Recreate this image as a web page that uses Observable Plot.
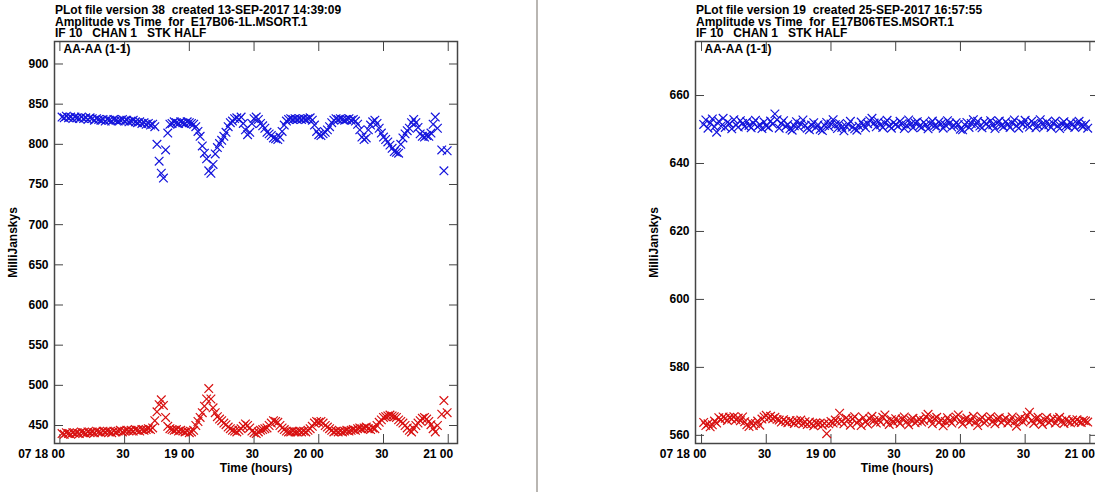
<!DOCTYPE html>
<html><head><meta charset="utf-8">
<script src="https://cdn.jsdelivr.net/npm/d3@7"></script>
<script src="https://cdn.jsdelivr.net/npm/@observablehq/plot@0.6"></script>
<style>
body{margin:0;background:#fff;}
#wrap{position:relative;width:1095px;height:492px;overflow:hidden;background:#fff;font-family:"Liberation Sans",Arial,sans-serif;}
.title{position:absolute;top:5px;font-weight:bold;font-size:12px;line-height:11.5px;white-space:pre;color:#000;z-index:2;}
.panel{position:absolute;top:0;width:537px;height:492px;}
.panel svg{max-width:none !important;width:537px;height:492px;}
#divider{position:absolute;left:536px;top:0;width:2px;height:492px;background:#b9b6b2;z-index:3;}
</style></head>
<body>
<div id="wrap">
 <div id="left" class="panel" style="left:0"></div>
 <div id="right" class="panel" style="left:641px"></div>
 <div id="divider"></div>
 <div class="title" id="t1" style="left:55px"></div>
 <div class="title" id="t2" style="left:696px"></div>
</div>
<script>
// ---------- titles ----------
const leftTitle = ["PLot file version 38  created 13-SEP-2017 14:39:09", "Amplitude vs Time  for  E17B06-1L.MSORT.1", "IF 10   CHAN 1   STK HALF"];
const rightTitle = ["PLot file version 19  created 25-SEP-2017 16:57:55", "Amplitude vs Time  for  E17B06TES.MSORT.1", "IF 10   CHAN 1   STK HALF"];
const panelLabel = "AA-AA (1-1)";
const yLabel = "MilliJanskys";
const xLabel = "Time (hours)";

// ---------- x ticks (minutes after 18:00 on day 07) ----------
const xTicks = [0, 30, 60, 90, 120, 150, 180];
const xTickLabels = ["07 18 00", "30", "19 00", "30", "20 00", "30", "21 00"];

// ---------- left panel (E17B06-1L) ----------
const leftYTicks = [450, 500, 550, 600, 650, 700, 750, 800, 850, 900];
const leftMinutes = [1,2,3,4,5,6,7,8,9,10,11,12,13,14,15,16,17,18,19,20,21,22,23,24,25,26,27,28,29,30,31,32,33,34,35,36,37,38,39,40,41,42,43,44,45,46,47,48,49,50,51,52,53,54,55,56,57,58,59,60,61,62,63,64,65,66,67,68,69,70,71,72,73,74,75,76,77,78,79,80,81,82,83,84,85,86,87,88,89,90,91,92,93,94,95,96,97,98,99,100,101,102,103,104,105,106,107,108,109,110,111,112,113,114,115,116,117,118,119,120,121,122,123,124,125,126,127,128,129,130,131,132,133,134,135,136,137,138,139,140,141,142,143,144,145,146,147,148,149,150,151,152,153,154,155,156,157,158,159,160,161,162,163,164,165,166,167,168,169,170,171,172,173,174,175,177,178,179.5];
const leftBlue = [
 834,833,835,833,834,832,834,833,832,834,832,833,831,833,832,830,832,831,830,831,
 829,831,830,829,831,830,829,830,831,829,830,828,829,830,828,827,828,826,827,825,
 826,824,825,822,800,779,764,758,793,814,825,826,828,827,826,828,827,826,828,827,
 826,825,822,816,810,798,789,782,767,764,775,788,796,801,805,810,815,822,827,829,
 832,833,831,834,826,818,812,815,826,832,834,831,826,823,820,815,813,811,808,807,
 806,809,816,824,829,831,832,831,832,831,832,831,832,831,832,833,830,824,816,812,
 811,813,815,818,822,827,830,832,831,832,831,830,831,832,830,831,829,825,818,809,
 806,808,818,824,828,830,826,820,814,809,806,803,799,795,791,790,789,800,808,813,
 817,820,827,831,827,821,813,810,809,811,810,814,825,834,820,793,767,792];
const leftRed = [
 440,439,441,440,439,441,440,441,440,442,441,440,442,441,442,441,443,442,441,443,
 442,443,442,441,443,442,443,444,442,443,444,443,444,443,445,444,443,445,444,445,
 446,445,447,456,467,476,482,475,460,449,446,445,444,445,443,444,443,442,443,441,
 442,444,450,455,460,466,474,483,496,483,472,466,461,458,456,453,451,448,446,444,
 443,442,444,446,449,452,450,447,443,441,440,442,444,445,446,447,450,453,456,455,
 454,450,447,445,443,442,442,443,442,442,443,442,443,442,444,446,449,453,455,454,
 455,453,450,448,446,444,442,443,442,443,442,443,444,443,444,445,444,446,447,446,
 447,448,446,445,447,446,450,454,457,460,461,462,463,462,461,460,457,455,453,450,
 447,444,442,446,450,453,456,459,460,458,455,451,446,442,450,464,481,466];

// ---------- right panel (E17B06TES) ----------
const rightYTicks = [560, 580, 600, 620, 640, 660];
const rightMinutes = [1,2,3,4,5,6,7,8,9,10,11,12,13,14,15,16,17,18,19,20,21,22,23,24,25,26,27,28,29,30,31,32,33,34,35,36,37,38,39,40,41,42,43,44,45,46,47,48,49,50,51,52,53,54,55,56,57,58,59,60,61,62,63,64,65,66,67,68,69,70,71,72,73,74,75,76,77,78,79,80,81,82,83,84,85,86,87,88,89,90,91,92,93,94,95,96,97,98,99,100,101,102,103,104,105,106,107,108,109,110,111,112,113,114,115,116,117,118,119,120,121,122,123,124,125,126,127,128,129,130,131,132,133,134,135,136,137,138,139,140,141,142,143,144,145,146,147,148,149,150,151,152,153,154,155,156,157,158,159,160,161,162,163,164,165,166,167,168,169,170,171,172,173,174,175,176,177,178,179];
const rightBlue = [
 651.5,652.8,650.4,651.9,653.1,650.8,649.2,652.4,651.0,653.3,
 650.6,652.1,651.7,650.2,652.9,651.3,650.7,652.6,651.8,650.9,
 652.3,651.2,650.5,651.9,652.7,650.8,651.4,650.3,652.2,651.0,
 650.6,652.5,651.6,654.6,652.9,650.4,651.8,652.6,650.9,651.5,
 650.2,649.8,651.1,652.3,650.7,651.6,652.8,651.2,650.4,649.9,
 651.3,652.0,650.6,651.4,650.1,649.7,651.2,652.1,650.8,651.6,
 652.9,651.4,650.3,651.8,650.6,649.6,650.9,651.5,652.4,650.7,
 650.2,649.8,651.0,652.2,651.3,650.5,651.7,652.6,653.3,651.9,
 650.8,652.3,651.4,650.6,651.9,652.7,651.1,650.4,652.0,651.5,
 650.9,652.4,651.7,650.3,651.2,652.8,651.6,650.5,651.9,652.3,
 651.0,650.6,652.1,651.4,650.2,651.7,652.5,651.1,650.8,652.2,
 651.6,650.4,651.3,652.6,651.9,650.7,651.2,652.0,651.5,650.1,
 649.9,651.4,652.1,650.6,651.8,652.9,651.3,652.4,651.0,650.5,
 652.2,651.7,650.9,652.6,651.4,650.3,651.9,652.5,651.2,650.8,
 652.3,651.5,650.6,651.9,652.8,651.1,650.4,652.0,651.6,652.7,
 651.3,650.7,652.4,651.8,650.5,651.2,652.9,651.6,650.9,652.2,
 651.4,650.6,651.8,652.5,651.0,650.3,651.7,652.3,651.1,650.8,
 652.0,651.5,650.6,651.9,652.4,651.2,650.9,651.6,650.4];
const rightRed = [
 563.8,562.9,563.4,562.5,563.1,564.2,563.6,
 565.2,564.6,565.4,565.0,564.4,565.3,564.8,565.5,564.6,565.1,564.3,565.4,
 564.0,563.1,562.6,563.8,562.9,563.5,564.2,563.0,
 564.8,565.4,565.9,565.1,565.6,564.9,565.3,564.7,
 564.5,563.9,564.6,564.1,563.7,564.4,564.0,563.5,564.3,563.8,564.5,563.4,564.0,563.2,563.9,563.4,562.8,563.7,563.3,563.6,563.0,563.5,
 560.5,563.4,564.1,563.6,564.5,563.9,
 566.5,564.2,563.4,565.1,564.6,563.0,564.8,565.5,563.7,564.3,
 562.9,565.2,564.0,563.3,564.9,565.6,564.4,563.6,564.7,563.9,
 565.3,566.0,564.1,563.2,564.6,563.8,564.9,564.3,563.5,564.8,
 565.4,564.0,563.1,564.5,565.0,563.7,564.2,564.8,563.9,564.4,
 565.5,566.2,564.6,563.4,564.9,565.3,563.8,564.5,562.8,564.1,
 565.2,564.3,563.6,564.9,565.4,566.0,564.2,563.3,564.7,565.1,
 563.9,564.4,565.6,564.0,562.9,564.6,565.3,563.7,564.2,564.9,
 565.5,564.1,563.4,564.8,565.2,563.8,564.5,565.0,563.6,564.3,
 565.4,564.0,562.7,564.6,565.1,563.9,564.7,565.8,566.8,564.4,
 563.5,564.9,565.3,564.1,563.2,564.6,565.2,563.8,564.4,565.0,
 563.6,564.8,565.3,564.2,563.5,564.7,564.0,563.7,564.5,563.9,
 564.6,564.1,563.8,564.4,564.2,563.9];

const BLUE = "#1414dc";
const RED = "#d81010";
const AXIS = "#444";

function panel({minutes, blue, red, xDomain, yDomain, yTicks}) {
  const rows = [];
  minutes.forEach((m, i) => {
    rows.push({t: m, v: blue[i], s: "RR"});
    rows.push({t: m, v: red[i], s: "LL"});
  });
  return Plot.plot({
    width: 537, height: 492,
    marginTop: 41, marginBottom: 49, marginLeft: 54, marginRight: 80,
    style: {fontFamily: "'Liberation Sans', Arial, sans-serif", fontSize: "12px", fontWeight: "bold", background: "transparent", color: "#000", maxWidth: "none"},
    x: {domain: xDomain},
    y: {domain: yDomain},
    marks: [
      Plot.axisY(yTicks, {anchor: "left", tickSize: -9, tickPadding: 15, stroke: AXIS, label: yLabel, labelAnchor: "center", labelOffset: 46, labelArrow: "none"}),
      Plot.axisY(yTicks, {anchor: "right", tickSize: -9, tickFormat: () => "", label: null, stroke: AXIS}),
      Plot.axisX(xTicks, {anchor: "bottom", tickSize: -9, tickFormat: () => "", stroke: AXIS, label: xLabel, labelAnchor: "center", labelOffset: 28, labelArrow: "none"}),
      Plot.axisX(xTicks, {anchor: "top", tickSize: -9, tickFormat: () => "", label: null, stroke: AXIS}),
      Plot.text(xTicks, {x: d => d, text: (d, i) => xTickLabels[i], frameAnchor: "bottom", lineAnchor: "top", textAnchor: "end", dx: 5, dy: 6}),
      Plot.dot(rows.filter(d => d.s === "RR"), {x: "t", y: "v", symbol: "times", r: 4, stroke: BLUE, strokeWidth: 1.2}),
      Plot.dot(rows.filter(d => d.s === "LL"), {x: "t", y: "v", symbol: "times", r: 4, stroke: RED, strokeWidth: 1.2}),
      Plot.frame({stroke: AXIS, strokeWidth: 1.5}),
      Plot.text([panelLabel], {frameAnchor: "top-left", textAnchor: "start", lineAnchor: "top", dx: 9, dy: 3})
    ]
  });
}

document.getElementById("t1").textContent = leftTitle.join("\n");
document.getElementById("t2").textContent = rightTitle.join("\n");
document.getElementById("left").append(panel({minutes: leftMinutes, blue: leftBlue, red: leftRed, xDomain: [-2.5, 184.3], yDomain: [427.6, 928], yTicks: leftYTicks}));
document.getElementById("right").append(panel({minutes: rightMinutes, blue: rightBlue, red: rightRed, xDomain: [-2.8, 184.0], yDomain: [557.6, 675.9], yTicks: rightYTicks}));
</script>
</body></html>
